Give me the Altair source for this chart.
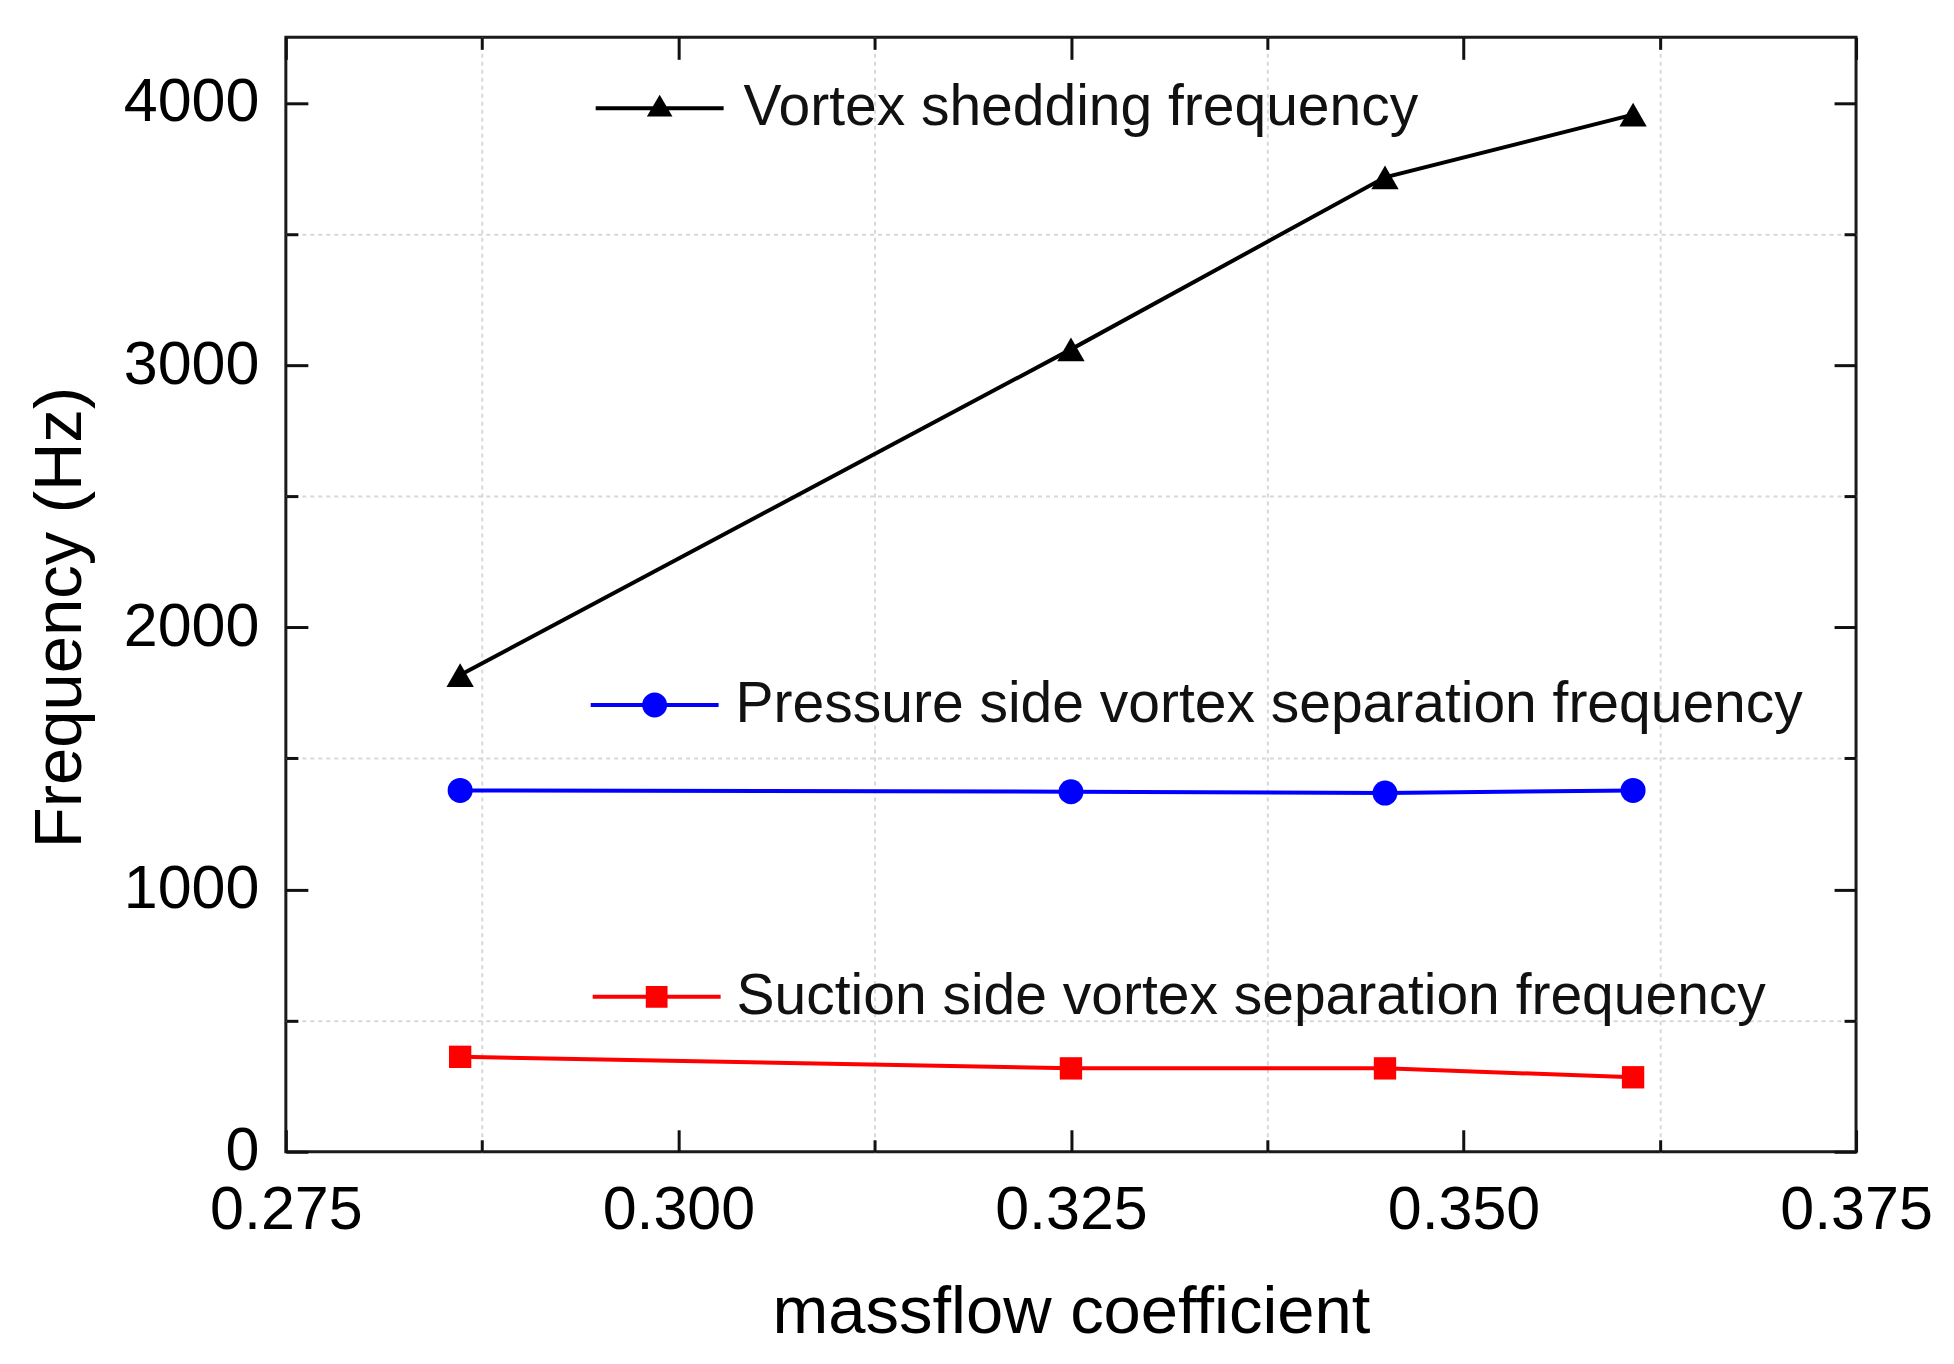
import altair as alt
import pandas as pd

# ---------------- data ----------------
x_vals = [0.2861, 0.3250, 0.3450, 0.3608]
vortex = [1818, 3060, 3716, 3955]
pressure = [1378, 1373, 1368, 1378]
suction = [362, 318, 318, 284]
names = [
    "Vortex shedding frequency",
    "Pressure side vortex separation frequency",
    "Suction side vortex separation frequency",
]
x_major = [0.275, 0.300, 0.325, 0.350, 0.375]
x_minor = [0.2875, 0.3125, 0.3375, 0.3625]
y_major = [0, 1000, 2000, 3000, 4000]
y_minor = [500, 1500, 2500, 3500]
x_title = "massflow coefficient"
y_title = "Frequency (Hz)"

FONT = "Liberation Sans"
W, H = 1571, 1115

xs = alt.Scale(domain=[0.275, 0.375], nice=False, zero=False)
ys = alt.Scale(domain=[0, 4250], nice=False, zero=False)

frames = []
for n, vals in zip(names, [vortex, pressure, suction]):
    frames.append(pd.DataFrame({"x": x_vals, "y": vals, "series": n}))
df_all = pd.concat(frames, ignore_index=True)

TICK = dict(domain=False, grid=False, tickColor="#111111", tickWidth=3)


def axis_layer(xaxis, yaxis):
    return alt.Chart(df_all).mark_point(opacity=0).encode(
        x=alt.X("x:Q", scale=xs, axis=xaxis),
        y=alt.Y("y:Q", scale=ys, axis=yaxis),
    )


ax_main = axis_layer(
    alt.Axis(orient="bottom", values=x_major, format=".3f", offset=-22, tickSize=22,
             labelFont=FONT, labelFontSize=61, labelColor="#000000", labelPadding=29,
             labelFlush=False, labelOverlap=False, labelBound=False,
             title=x_title, titleFont=FONT, titleFontSize=67, titleFontWeight="normal",
             titleColor="#000000", titleY=150, **TICK),
    alt.Axis(orient="left", values=y_major, format="d", offset=-22, tickSize=22,
             labelFont=FONT, labelFontSize=61, labelColor="#000000", labelPadding=27,
             labelOverlap=False, labelBound=False, labelFlush=False,
             title=y_title, titleFont=FONT, titleFontSize=67, titleFontWeight="normal",
             titleColor="#000000", titleX=-213, titleY=580, **TICK),
)
ax_minor = axis_layer(
    alt.Axis(orient="bottom", values=x_minor, offset=-12, tickSize=12, labels=False, title=None, **TICK),
    alt.Axis(orient="left", values=y_minor, offset=-12, tickSize=12, labels=False, title=None, **TICK),
)
ax_top = axis_layer(
    alt.Axis(orient="top", values=x_major, offset=-22, tickSize=22, labels=False, title=None, **TICK),
    alt.Axis(orient="right", values=y_major, offset=-22, tickSize=22, labels=False, title=None, **TICK),
)
ax_top_minor = axis_layer(
    alt.Axis(orient="top", values=x_minor, offset=-12, tickSize=12, labels=False, title=None, **TICK),
    alt.Axis(orient="right", values=y_minor, offset=-12, tickSize=12, labels=False, title=None, **TICK),
)
GRID = dict(grid=True, gridColor="#d8d8d8", gridDash=[4, 4], gridWidth=2, ticks=False,
            labels=False, domain=False, title=None)
ax_grid = axis_layer(
    alt.Axis(orient="bottom", values=x_minor, **GRID),
    alt.Axis(orient="left", values=y_minor, **GRID),
)

# legend symbols: line + marker, as filled custom paths (unit box = 128 px)
LINE = "M-1,-0.031H1V0.031H-1Z "
sym_tri = LINE + "M0,-0.21L0.2,0.13L-0.2,0.13Z"
sym_circ = LINE + "M-0.195,0A0.195,0.195 0 1,1 0.195,0A0.195,0.195 0 1,1 -0.195,0Z"
sym_sq = LINE + "M-0.17,-0.17H0.17V0.17H-0.17Z"

styles = [
    dict(color="#000000", shape="triangle-up", size=750, sym=sym_tri, lx=310, ly=7, lo=20),
    dict(color="#0000ff", shape="circle", size=625, sym=sym_circ, lx=305, ly=604, lo=17),
    dict(color="#ff0000", shape="square", size=500, sym=sym_sq, lx=307, ly=896, lo=16),
]

series_layers = []
for n, f, st in zip(names, frames, styles):
    line = alt.Chart(f).mark_line(color=st["color"], strokeWidth=4).encode(
        x=alt.X("x:Q", scale=xs, axis=None),
        y=alt.Y("y:Q", scale=ys, axis=None),
    )
    pts = alt.Chart(f).mark_point(filled=True, opacity=1, shape=st["shape"], size=st["size"]).encode(
        x=alt.X("x:Q", scale=xs, axis=None),
        y=alt.Y("y:Q", scale=ys, axis=None),
        color=alt.Color(
            "series:N",
            scale=alt.Scale(domain=[n], range=[st["color"]]),
            legend=alt.Legend(
                orient="none", legendX=st["lx"], legendY=st["ly"], title=None,
                symbolType=st["sym"], symbolSize=16384, symbolStrokeWidth=0,
                labelFont=FONT, labelFontSize=57, labelColor="#111111",
                labelOffset=st["lo"], labelLimit=0, padding=0,
            ),
        ),
    )
    series_layers.append(alt.layer(line, pts))

chart = (
    alt.layer(ax_grid, ax_minor, ax_top, ax_top_minor, ax_main, *series_layers)
    .resolve_scale(color="independent")
    .resolve_axis(x="independent", y="independent")
    .properties(
        width=W, height=H,
        autosize=alt.AutoSizeParams(type="none"),
        padding={"left": 278, "top": 29, "right": 90, "bottom": 200},
        background="white",
    )
    .configure_view(stroke="#1a1a1a", strokeWidth=3)
)

chart.save("out.html", embed_options={"renderer": "svg", "actions": False})
